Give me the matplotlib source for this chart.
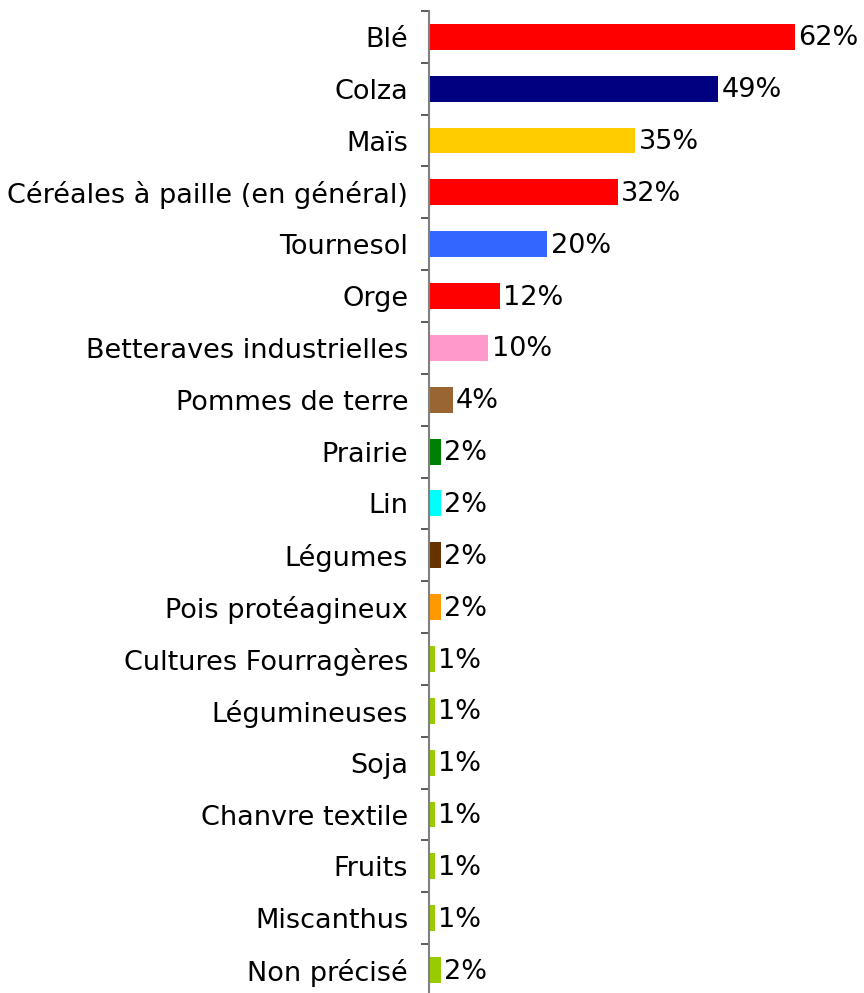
import numpy as np
import matplotlib.pyplot as plt
from matplotlib.ticker import FixedLocator, NullFormatter

cultures = ['Blé', 'Colza', 'Maïs', 'Céréales à paille (en général)', 'Tournesol',
            'Orge', 'Betteraves industrielles', 'Pommes de terre', 'Prairie', 'Lin',
            'Légumes', 'Pois protéagineux', 'Cultures Fourragères', 'Légumineuses',
            'Soja', 'Chanvre textile', 'Fruits', 'Miscanthus', 'Non précisé']
pct = [62, 49, 35, 32, 20, 12, 10, 4, 2, 2, 2, 2, 1, 1, 1, 1, 1, 1, 2]
couleurs = ['#FF0000', '#000080', '#FFCC00', '#FF0000', '#3366FF', '#FF0000',
            '#FF99CC', '#996633', '#008000', '#00FFFF', '#663300', '#FF9900',
            '#99CC00', '#99CC00', '#99CC00', '#99CC00', '#99CC00', '#99CC00', '#99CC00']

fig = plt.figure(figsize=(8.64, 9.93), dpi=100)
ax = fig.add_axes([0.4965, -0.003, 0.478, 0.992])

y = np.arange(len(cultures))
ax.barh(y, pct, height=0.5, color=couleurs)
for yi, v in zip(y, pct):
    ax.text(v + 0.6, yi + 0.03, f'{v}%', va='center', ha='left', fontsize=19.5, color='black')

ax.set_ylim(len(cultures) - 0.5, -0.5)
ax.set_xlim(0, 70)
ax.set_yticks(y)
ax.set_yticklabels(cultures, fontsize=19.5)
ax.tick_params(axis='y', which='major', length=0, pad=15)
ax.yaxis.set_minor_locator(FixedLocator(np.arange(-0.5, len(cultures), 1)))
ax.yaxis.set_minor_formatter(NullFormatter())
ax.tick_params(axis='y', which='minor', length=6, width=1.2, color='#404040')
ax.set_xticks([])
for s in ['top', 'right', 'bottom']:
    ax.spines[s].set_visible(False)
ax.spines['left'].set_color('#808080')
ax.spines['left'].set_linewidth(1.5)

fig.savefig('out.png', dpi=100)
